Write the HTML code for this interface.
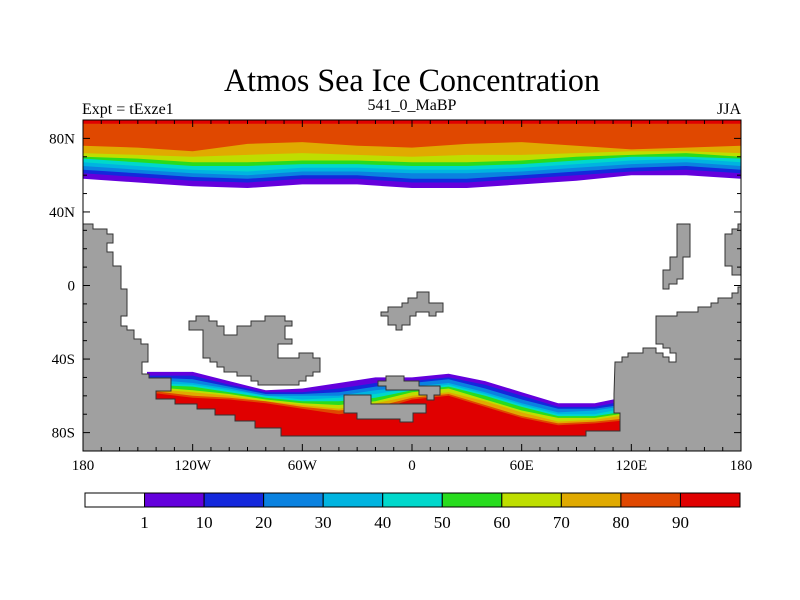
<!DOCTYPE html>
<html><head><meta charset="utf-8"><style>
body{margin:0;background:#fff;}
svg{display:block;font-family:"Liberation Serif",serif;}
</style></head><body>
<svg id="chart" width="800" height="600" viewBox="0 0 800 600">
<rect width="800" height="600" fill="#fff"/>
<text x="412" y="91" font-size="33" text-anchor="middle" transform="translate(412 0) scale(0.97 1) translate(-412 0)">Atmos Sea Ice Concentration</text>
<text x="82" y="114" font-size="16">Expt = tExze1</text>
<text x="412" y="110" font-size="16" text-anchor="middle">541_0_MaBP</text>
<text x="741" y="114" font-size="16" text-anchor="end">JJA</text>
<g id="plot"></g>
<g id="cbar"></g>
</svg>
<script>
const levels=[1,10,20,30,40,50,60,70,80,90];
const colors=["#6400dc","#1428dc","#0a82e0","#00b4e0","#00d8cc","#28dc1e","#bede00","#e0aa00","#e04800","#e00000"];
const arcticLons=[-180,-150,-120,-90,-60,-30,0,30,60,90,120,150,180];
const arc1=[58,56,54,53,55,55,53,53,55,57,60,60,58];
const arc10=[61,59,57,56,58,58,56,56,58,60,62,63,61];
const arc20=[63,61,59,58,60,60,58,58,60,62,64,65,63];
const arc30=[65,63,61,60,62,62,61,61,62,64,66,67,65];
const arc40=[67,65,63,62,64,64,63,63,64,66,68,69,67];
const arc50=[69,67,65,65,66,66,65,65,66,68,70,70,69];
const arc60=[70,69,67,67,68,68,67,67,68,70,71,72,70];
const arc70=[72,71,70,71,72,71,70,71,71,72,73,73,72];
const arc80=[76,75,73,77,78,76,75,77,78,76,74,75,76];
const arc90=[88,88,88,88,88,88,88,88,88,88,88,88,88];
const antLons=[-145,-120,-100,-80,-60,-40,-20,0,20,40,60,80,100,120];
const ant1=[-47,-47,-52,-57,-56,-53,-50,-50,-48,-52,-58,-64,-64,-60];
const ant10=[-49,-49,-54,-58,-58,-56,-53,-52,-50,-54,-60,-66,-66,-62];
const ant20=[-50,-51,-55,-59,-59,-58,-55,-53,-51,-56,-62,-67,-67,-64];
const ant30=[-51,-53,-56,-60,-60,-60,-57,-55,-53,-58,-64,-69,-68,-65];
const ant40=[-53,-54,-57,-60,-62,-61,-59,-56,-54,-59,-65,-70,-70,-66];
const ant50=[-54,-55,-58,-61,-63,-63,-61,-57,-55,-60,-66,-71,-71,-68];
const ant60=[-55,-57,-59,-62,-64,-65,-63,-58,-56,-62,-68,-72,-72,-69];
const ant70=[-56,-58,-60,-63,-65,-67,-64,-60,-58,-63,-69,-74,-73,-70];
const ant80=[-57,-60,-61,-63,-66,-68,-66,-61,-59,-65,-71,-75,-74,-72];
const ant90=[-58,-61,-62,-64,-67,-70,-68,-62,-60,-66,-72,-76,-75,-73];
const lonTicks=[-180,-120,-60,0,60,120,180];
const lonTickLabels=["180","120W","60W","0","60E","120E","180"];
const latTicks=[80,40,0,-40,-80];
const latTickLabels=["80N","40N","0","40S","80S"];
const cbarLabels=["1","10","20","30","40","50","60","70","80","90"];

const X0=83,X1=741,Y0=120,Y1=451;
const xs=lon=>X0+(lon+180)/360*(X1-X0);
const ys=lat=>Y0+(90-lat)/180*(Y1-Y0);
const NS="http://www.w3.org/2000/svg";
const plot=document.getElementById('plot');
function mk(tag,attrs,parent){const e=document.createElementNS(NS,tag);for(const k in attrs)e.setAttribute(k,attrs[k]);(parent||plot).appendChild(e);return e;}

const defs=mk('defs',{});
const cp=mk('clipPath',{id:'pc'},defs);mk('rect',{x:X0,y:Y0,width:X1-X0,height:Y1-Y0},cp);
const g=mk('g',{'clip-path':'url(#pc)'});

const arc=[arc1,arc10,arc20,arc30,arc40,arc50,arc60,arc70,arc80,arc90];
arc.forEach((a,i)=>{
  let d='M'+xs(arcticLons[0])+','+Y0;
  a.forEach((v,j)=>{d+=' L'+xs(arcticLons[j]).toFixed(1)+','+ys(v).toFixed(1);});
  d+=' L'+xs(arcticLons[arcticLons.length-1])+','+Y0+'Z';
  const p=mk('path',{d:d,fill:colors[i]},g);
  
  
});
const ant=[ant1,ant10,ant20,ant30,ant40,ant50,ant60,ant70,ant80,ant90];
ant.forEach((a,i)=>{
  let d='M'+xs(antLons[0]).toFixed(1)+','+Y1;
  a.forEach((v,j)=>{d+=' L'+xs(antLons[j]).toFixed(1)+','+ys(v).toFixed(1);});
  d+=' L'+xs(antLons[antLons.length-1]).toFixed(1)+','+Y1+'Z';
  const p=mk('path',{d:d,fill:colors[i]},g);
  
  
});

const lands={
 'southern-land':[[83,224],[93,224],[93,229],[107,229],[107,234],[113,234],[113,243],[107,243],[107,252],[113,252],[113,266],[121,266],[121,289],[127,289],[127,316],[121,316],[121,326],[127,326],[127,330],[134,330],[134,339],[141,339],[141,344],[148,344],[148,362],[142,362],[142,374],[149,374],[149,378],[171,378],[171,391],[156,391],[156,399],[175,399],[175,404],[197,404],[197,409],[215,409],[215,415],[235,415],[235,421],[255,421],[255,428],[281,428],[281,436],[586,436],[586,431],[620,431],[620,413],[614,413],[614,394],[615,362],[622,362],[622,357],[628,357],[628,353],[643,353],[643,348],[656,348],[656,353],[663,353],[663,357],[669,357],[669,362],[676,362],[676,353],[670,353],[670,348],[663,348],[663,344],[656,344],[656,316],[677,316],[677,312],[698,312],[698,307],[711,307],[711,303],[718,303],[718,298],[732,298],[732,293],[738,293],[738,287],[742,287],[742,452],[82,452],[82,224]],
 'east-land':[[742,224],[738,224],[738,229],[732,229],[732,234],[725,234],[725,266],[732,266],[732,275],[742,275]],
 'india-island':[[677,224],[690,224],[690,257],[683,257],[683,279],[677,279],[677,284],[669,284],[669,289],[663,289],[663,270],[670,270],[670,257],[677,257]],
 'central-island':[[381,312],[388,312],[388,307],[402,307],[402,303],[408,303],[408,298],[417,298],[417,292],[429,292],[429,303],[443,303],[443,312],[436,312],[436,316],[429,316],[429,312],[416,312],[416,316],[410,316],[410,325],[402,325],[402,330],[396,330],[396,325],[388,325],[388,316],[381,316]],
 'large-island':[[189,321],[196,321],[196,316],[209,316],[209,321],[217,321],[217,326],[224,326],[224,335],[237,335],[237,326],[251,326],[251,321],[265,321],[265,316],[285,316],[285,321],[292,321],[292,326],[285,326],[285,339],[292,339],[292,344],[278,344],[278,358],[299,358],[299,353],[313,353],[313,358],[320,358],[320,372],[313,372],[313,376],[306,376],[306,381],[299,381],[299,385],[258,385],[258,381],[251,381],[251,376],[237,376],[237,372],[224,372],[224,367],[217,367],[217,362],[210,362],[210,358],[203,358],[203,330],[189,330]],
 'antarctic-island-a':[[344,395],[371,395],[371,404],[426,404],[426,413],[413,413],[413,422],[400,422],[400,419],[357,419],[357,413],[344,413]],
 'antarctic-island-b':[[378,381],[386,381],[386,376],[404,376],[404,381],[419,381],[419,386],[440,386],[440,395],[434,395],[434,400],[427,400],[427,395],[419,395],[419,390],[386,390],[386,386],[378,386]]
};
for(const k in lands){
  const p=mk('polygon',{points:lands[k].map(q=>q.join(',')).join(' '),fill:'#a0a0a0',stroke:'#333','stroke-width':1},g);
  
  
}
const frame=mk('rect',{x:X0,y:Y0,width:X1-X0,height:Y1-Y0,fill:'none',stroke:'#000','stroke-width':1});



for(let lon=-180;lon<=180;lon+=10){
  const L=lon%60===0?7:4;const x=xs(lon);
  mk('line',{x1:x,y1:Y1,x2:x,y2:Y1-L,stroke:'#000'});
  mk('line',{x1:x,y1:Y0,x2:x,y2:Y0+L,stroke:'#000'});
}
for(let lat=-90;lat<=90;lat+=10){
  const L=(lat+80)%40===0?7:4;const y=ys(lat);
  mk('line',{x1:X0,y1:y,x2:X0+L,y2:y,stroke:'#000'});
  mk('line',{x1:X1,y1:y,x2:X1-L,y2:y,stroke:'#000'});
}
lonTicks.forEach((v,i)=>{
  const t=mk('text',{x:xs(v),y:470,'font-size':15,'text-anchor':'middle'});
  t.textContent=lonTickLabels[i];
  
  
});
latTicks.forEach((v,i)=>{
  const t=mk('text',{x:75,y:ys(v)+5,'font-size':15,'text-anchor':'end'});
  t.textContent=latTickLabels[i];
  
  
});

const cb=document.getElementById('cbar');
const cbX=85,cbW=655,cbY=493,cbH=14,n=colors.length+1;
const boxW=cbW/n;
const allCols=["#ffffff"].concat(colors);
allCols.forEach((c,i)=>{
  const r=mk('rect',{x:cbX+i*boxW,y:cbY,width:boxW,height:cbH,fill:c,stroke:'#000','stroke-width':1},cb);
  
  
});
cbarLabels.forEach((s,i)=>{
  const t=mk('text',{x:cbX+(i+1)*boxW,y:528,'font-size':17,'text-anchor':'middle'},cb);
  t.textContent=s;
  
  
});
</script>
</body></html>
